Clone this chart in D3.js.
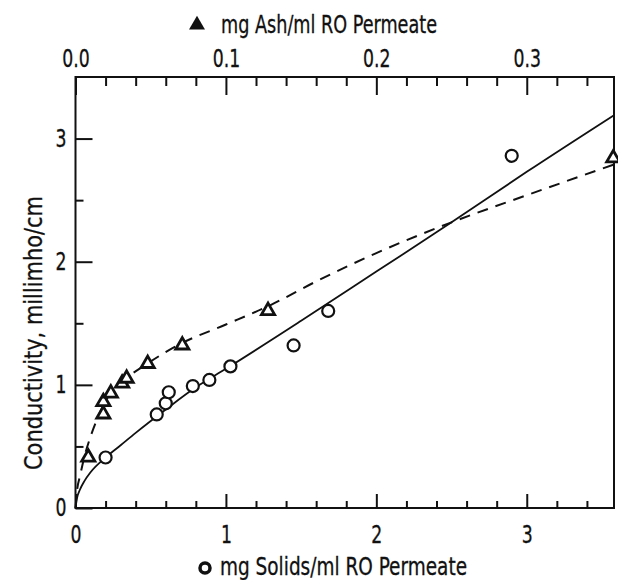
<!DOCTYPE html>
<html>
<head>
<meta charset="utf-8">
<script src="https://cdn.jsdelivr.net/npm/d3@7"></script>
<style>
  body { margin: 0; background: white; }
  svg text { font-family: "DejaVu Sans Condensed", "DejaVu Sans", sans-serif; fill: #111; stroke: #111; stroke-width: 0.3px; }
</style>
</head>
<body>
<div id="chart"></div>
<script>
// circles: mg solids/ml (bottom axis)
const solidsX = [0.20, 0.54, 0.60, 0.62, 0.78, 0.89, 1.03, 1.45, 1.68, 2.90];
const solidsY = [0.41, 0.76, 0.85, 0.94, 0.99, 1.04, 1.15, 1.32, 1.60, 2.86];

// triangles: mg ash/ml (top axis)
const ashX = [0.0085, 0.0185, 0.0185, 0.0235, 0.031, 0.034, 0.048, 0.071, 0.128, 0.3575];
const ashY = [0.42, 0.77, 0.87, 0.94, 1.02, 1.06, 1.18, 1.33, 1.61, 2.85];

// fitted curves
const solidFitX = [0, 0.01, 0.03, 0.06, 0.1, 0.2, 0.3, 0.4, 0.6, 0.8, 1.0, 1.5, 2.0, 2.5, 3.0, 3.58];
const solidFitY = [0, 0.08, 0.15, 0.22, 0.29, 0.41, 0.51, 0.61, 0.80, 0.98, 1.13, 1.52, 1.92, 2.32, 2.73, 3.19];
const ashFitX = [0, 0.001, 0.003, 0.006, 0.01, 0.015, 0.02, 0.03, 0.05, 0.071, 0.1, 0.13, 0.16, 0.2, 0.25, 0.3, 0.358];
const ashFitY = [0, 0.14, 0.26, 0.42, 0.58, 0.74, 0.87, 1.01, 1.19, 1.34, 1.49, 1.65, 1.84, 2.07, 2.32, 2.54, 2.79];

// ticks
const bottomMajor = [0, 1, 2, 3];
const bottomMinor = [0.2, 0.4, 0.6, 0.8, 1.2, 1.4, 1.6, 1.8, 2.2, 2.4, 2.6, 2.8, 3.2, 3.4];
const topMajor = [0.0, 0.1, 0.2, 0.3];
const topMinor = [0.02, 0.04, 0.06, 0.08, 0.12, 0.14, 0.16, 0.18, 0.22, 0.24, 0.26, 0.28, 0.32, 0.34];
const leftMajor = [0, 1, 2, 3];
const leftMinor = [0.5, 1.5, 2.5];

const width = 618;
const height = 580;
const plotLeft = 75.5, plotRight = 614, plotTop = 77, plotBottom = 508;

const xScale = d3.scaleLinear().domain([0, 3.58]).range([plotLeft, plotRight]);
const xAsh = d3.scaleLinear().domain([0, 0.358]).range([plotLeft, plotRight]);
const yScale = d3.scaleLinear().domain([0, 3.5]).range([plotBottom, plotTop]);

const svg = d3.select('#chart')
    .append('svg')
        .attr('width', width)
        .attr('height', height);

// frame
svg.append('rect')
    .attr('x', plotLeft)
    .attr('y', plotTop)
    .attr('width', plotRight - plotLeft)
    .attr('height', plotBottom - plotTop)
    .attr('fill', 'none')
    .attr('stroke', '#111')
    .attr('stroke-width', 2);

function tidy(g) {
    g.select('.domain').remove();
    g.selectAll('line').attr('stroke', '#111').attr('stroke-width', 2);
    g.selectAll('text').attr('font-family', null).style('font-size', '24px');
}

// bottom axis, ticks point inward
svg.append('g')
    .attr('transform', `translate(0, ${plotBottom})`)
    .call(d3.axisBottom(xScale).tickValues(bottomMinor).tickSize(-7).tickFormat(''))
    .call(tidy);
svg.append('g')
    .attr('transform', `translate(0, ${plotBottom})`)
    .call(d3.axisBottom(xScale).tickValues(bottomMajor).tickSize(-14).tickPadding(18).tickFormat(d3.format('d')))
    .call(tidy);

// top axis (ash)
svg.append('g')
    .attr('transform', `translate(0, ${plotTop})`)
    .call(d3.axisTop(xAsh).tickValues(topMinor).tickSize(-9).tickFormat(''))
    .call(tidy);
svg.append('g')
    .attr('transform', `translate(0, ${plotTop})`)
    .call(d3.axisTop(xAsh).tickValues(topMajor).tickSize(-18).tickPadding(10).tickFormat(d3.format('.1f')))
    .call(tidy);

// left axis
svg.append('g')
    .attr('transform', `translate(${plotLeft}, 0)`)
    .call(d3.axisLeft(yScale).tickValues(leftMinor).tickSize(-8).tickFormat(''))
    .call(tidy);
svg.append('g')
    .attr('transform', `translate(${plotLeft}, 0)`)
    .call(d3.axisLeft(yScale).tickValues(leftMajor).tickSize(-17).tickPadding(9).tickFormat(d3.format('d')))
    .call(tidy);

// narrow the tick labels, the original uses a condensed face
svg.selectAll('.tick text').each(function() {
    const len = this.getComputedTextLength();
    d3.select(this)
        .attr('textLength', len * 0.8)
        .attr('lengthAdjust', 'spacingAndGlyphs');
});

// axis titles
svg.append('path')
    .attr('d', d3.symbol(d3.symbolTriangle, 110)())
    .attr('transform', 'translate(197, 25)')
    .attr('fill', '#111');
svg.append('text')
    .attr('x', 221)
    .attr('y', 33)
    .attr('textLength', 216)
    .attr('lengthAdjust', 'spacingAndGlyphs')
    .style('font-size', '25px')
    .text('mg Ash/ml RO Permeate');

svg.append('circle')
    .attr('cx', 205)
    .attr('cy', 568)
    .attr('r', 5)
    .attr('fill', 'none')
    .attr('stroke', '#111')
    .attr('stroke-width', 3.5);
svg.append('text')
    .attr('x', 220)
    .attr('y', 575)
    .attr('textLength', 247)
    .attr('lengthAdjust', 'spacingAndGlyphs')
    .style('font-size', '25px')
    .text('mg Solids/ml RO Permeate');

svg.append('text')
    .attr('transform', 'rotate(-90)')
    .attr('x', -333)
    .attr('y', 42)
    .attr('text-anchor', 'middle')
    .attr('textLength', 274)
    .attr('lengthAdjust', 'spacingAndGlyphs')
    .style('font-size', '25px')
    .text('Conductivity, millimho/cm');

// fitted curves
const solidLine = d3.line()
    .x((d, i) => xScale(solidFitX[i]))
    .y((d, i) => yScale(solidFitY[i]))
    .curve(d3.curveMonotoneX);
svg.append('path')
    .attr('d', solidLine(solidFitX))
    .attr('fill', 'none')
    .attr('stroke', '#111')
    .attr('stroke-width', 1.8);

const ashLine = d3.line()
    .x((d, i) => xAsh(ashFitX[i]))
    .y((d, i) => yScale(ashFitY[i]))
    .curve(d3.curveMonotoneX);
svg.append('path')
    .attr('d', ashLine(ashFitX))
    .attr('fill', 'none')
    .attr('stroke', '#111')
    .attr('stroke-width', 2)
    .attr('stroke-dasharray', '11 8');

// circles
svg.selectAll('circle.solids')
    .data(solidsX)
    .enter()
        .append('circle')
            .attr('class', 'solids')
            .attr('cx', (d) => xScale(d))
            .attr('cy', (d, i) => yScale(solidsY[i]))
            .attr('r', 6)
            .attr('fill', 'white')
            .attr('stroke', '#111')
            .attr('stroke-width', 2.2);

// triangles
svg.selectAll('path.ash')
    .data(ashX)
    .enter()
        .append('path')
            .attr('class', 'ash')
            .attr('d', d3.symbol(d3.symbolTriangle, 75)())
            .attr('transform', (d, i) => `translate(${xAsh(d)}, ${yScale(ashY[i]) + 1})`)
            .attr('fill', 'white')
            .attr('stroke', '#111')
            .attr('stroke-width', 2.8)
            .attr('stroke-linejoin', 'miter');
</script>
</body>
</html>
